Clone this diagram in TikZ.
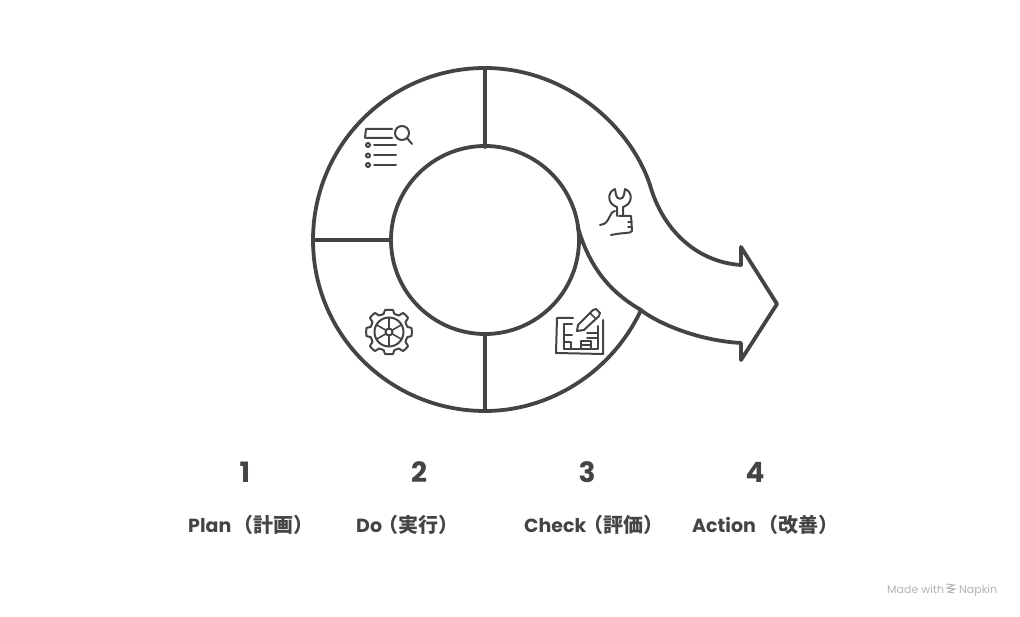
\documentclass[tikz,border=0pt]{standalone}
\usepackage{fontspec}
\setmainfont{Poppins}
\newfontfamily\jpfont{Noto Sans CJK JP}
\newcommand{\jptext}[2]{\kern#1pt{\jpfont\fontsize{20}{22}\selectfont #2}}
\definecolor{ink}{HTML}{444444}
\definecolor{markgrey}{HTML}{B4B4B4}
\tikzset{
  heavy/.style={draw=ink,line width=3.8pt,line cap=round,line join=round},
  icon/.style={draw=ink,line width=2pt,line cap=round,line join=round},
  numtext/.style={text=ink,font=\bfseries\fontsize{28}{30}\selectfont,inner sep=0pt,anchor=center},
  labeltext/.style={text=ink,font=\bfseries\fontsize{19}{22}\selectfont,inner sep=0pt,anchor=base west},
  marktext/.style={text=markgrey,font=\fontsize{11}{13}\selectfont,inner sep=0pt,anchor=base west}
}
\begin{document}
\begin{tikzpicture}[x=1pt,y=-1pt]
\useasboundingbox (0,0) rectangle (1020,617);
% named points of the ring
\coordinate (c) at (485,240);
\coordinate (outerT) at (485,68);
\coordinate (outerL) at (313,240);
\coordinate (outerB) at (485,411);
\coordinate (innerT) at (485,147);
\coordinate (innerL) at (391,240);
\coordinate (innerB) at (485,334);
\coordinate (join) at (641,310);
% outer ring with arrow
\draw[heavy] (join)
  .. controls (612,372) and (550,411) .. (outerB)
  .. controls (390,411) and (313,335) .. (outerL)
  .. controls (313,145) and (390,68) .. (outerT)
  .. controls (565,68) and (630,125) .. (650,185)
  .. controls (662,228) and (695,262) .. (741,265)
  -- (741,247) -- (777,304) -- (741,360) -- (741,343)
  .. controls (690,340) and (650,318) .. (join)
  .. controls (610,292) and (590,268) .. (578,228);
% inner circle
\draw[heavy] (c) circle [radius=94];
% dividers
\draw[heavy] (outerT) -- (innerT);
\draw[heavy] (outerL) -- (innerL);
\draw[heavy] (outerB) -- (innerB);
% list/search icon
\draw[icon] (366,129) -- (392,129) (366,138) -- (392,138) (366,129) -- (365,138);
\draw[icon] (402,133) circle [radius=7];
\draw[icon] (407,138) -- (412,144);
\foreach \yy in {145,155.5,165}{
  \draw[icon] (368,\yy) circle [radius=2];
  \draw[icon] (374,\yy) -- (396,\yy);
}
% gear icon
\draw[icon] plot[smooth cycle,tension=0.35] coordinates {
  (385,310)(393,310)(394,313.5)(399,315.5)(403,313)(408,318)(405.5,322)(407.5,327)
  (411.5,328)(411.5,336)(407.5,337)(405.5,342)(408,346)(403,351)(399,348.5)(394,350.5)
  (393,354)(385,354)(384,350.5)(379,348.5)(375,351)(370,346)(372.5,342)(370.5,337)
  (366.5,336)(366.5,328)(370.5,327)(372.5,322)(370,318)(375,313)(379,315.5)(384,313.5)};
\draw[icon] (389,332) circle [radius=14.5];
\draw[icon] (389,332) circle [radius=3.5];
\foreach \a in {30,90,150,210,270,330}{
  \draw[icon,line width=1.6pt] (389,332) ++(\a:3.5) -- ++(\a:11);
}
% plan/blueprint icon
\draw[icon] (573,318) -- (557,318) -- (556,353) -- (603,354) -- (603,320);
\draw[icon] (564,324) -- (564,349) (564,324) -- (572,324) (564,335) -- (572,335)
  (564,342) -- (571,342) -- (571,349) (564,349) -- (598,349) -- (598,326)
  (587,333) -- (598,333) (587,338) -- (598,338);
\draw[icon] (581,349) -- (581,341) -- (591,341) -- (591,349) (581,345) -- (591,345);
\draw[icon] (577,331) -- (578,325) -- (593,310) -- (596,309) -- (600,313) -- (599,316) -- (584,330) -- cycle;
\draw[icon,line width=1.5pt] (590,313) -- (596,319);
% wrench/thumb icon
\draw[icon] (615,189) .. controls (607,192) and (607,204) .. (617,207) -- (617,216)
  (625,189) .. controls (633,192) and (633,204) .. (623,207) -- (623,216)
  (615,189) -- (616,195) .. controls (617,200) and (623,200) .. (624,195) -- (625,189);
\draw[icon] (600,225) .. controls (606,224) and (607,222) .. (610,216) .. controls (611,213) and (613,211) .. (615,211);
\draw[icon] (619,216) -- (631,216) -- (632,231) .. controls (630,234) and (625,232) .. (611,235);
\draw[icon,line width=1.4pt] (632,222) -- (628,222) (632,227) -- (628,227);
% numbers
\node[numtext] (n1) at (245,472) {1};
\node[numtext] (n2) at (419,472) {2};
\node[numtext] (n3) at (587,472) {3};
\node[numtext] (n4) at (755,472) {4};
% labels
\node[labeltext] (l1) at (188,532) {Plan\jptext{2.5}{（計画）}};
\node[labeltext] (l2) at (356,532) {Do\jptext{-4}{（実行）}};
\node[labeltext] (l3) at (524,532) {Check\jptext{-2.5}{（評価）}};
\node[labeltext] (l4) at (692,532) {Action\jptext{2.5}{（改善）}};
% watermark
\node[marktext] (m1) at (887,593) {Made with};
\draw[markgrey,line width=1pt] (946,584) -- (954,585) -- (947,588) -- (955,589) -- (948,592) -- (954,593);
\node[marktext] (m2) at (959,593) {Napkin};
\end{tikzpicture}
\end{document}
